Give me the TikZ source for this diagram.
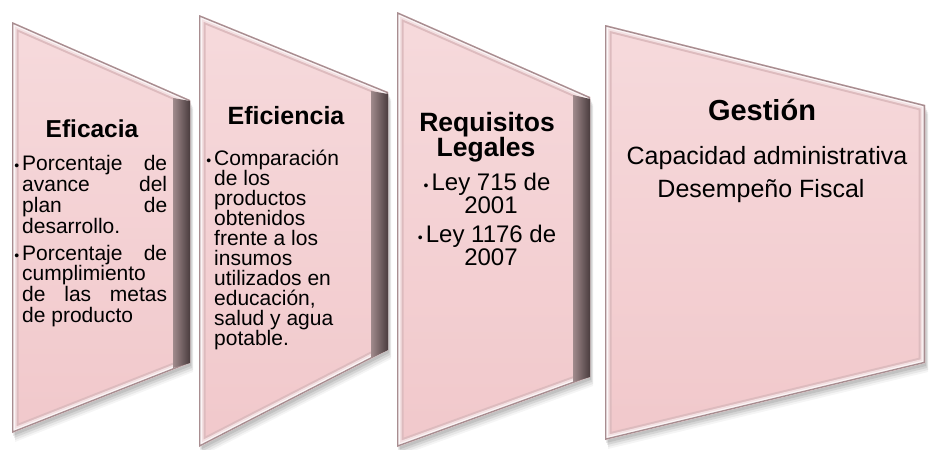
\documentclass[tikz,border=0pt]{standalone}
\usepackage{fontspec}
\setmainfont{Liberation Sans}
\definecolor{pinkTop}{HTML}{F6DADC}
\definecolor{pinkBot}{HTML}{F1C8CB}
\definecolor{bevMid}{HTML}{DDBBBE}
\definecolor{bevLight}{HTML}{F3E0E2}
\definecolor{bevDark}{HTML}{A88D90}
\definecolor{bandL}{HTML}{A08A8C}
\definecolor{bandM}{HTML}{6B5A5C}
\definecolor{bandR}{HTML}{4A3C3E}
\newcommand\chev[8]{%
  \foreach \dx/\dy/\op in {1/3/0.09, 2/5/0.08, 3/7/0.06, 3/9/0.04}{%
    \fill[black,opacity=\op] (#1+\dx,#2+\dy) -- (#3+\dx,#4+\dy) -- (#5+\dx,#6+\dy) -- (#7+\dx,#8+\dy) -- cycle;}
  \shade[top color=pinkTop,bottom color=pinkBot] (#1,#2) -- (#3,#4) -- (#5,#6) -- (#7,#8) -- cycle;
  \begin{scope}
    \clip (#1,#2) -- (#3,#4) -- (#5,#6) -- (#7,#8) -- cycle;
    \draw[line width=13pt,bevMid,line join=miter] (#1,#2) -- (#3,#4) -- (#5,#6) -- (#7,#8) -- cycle;
    \draw[line width=9pt,bevLight,line join=miter] (#1,#2) -- (#3,#4) -- (#5,#6) -- (#7,#8) -- cycle;
    \draw[line width=5.5pt,white,opacity=.7,line join=miter] (#1,#2) -- (#3,#4) -- (#5,#6) -- (#7,#8) -- cycle;
    \draw[line width=2.8pt,bevDark,line join=miter] (#1,#2) -- (#3,#4) -- (#5,#6) -- (#7,#8) -- cycle;
  \end{scope}}
\newcommand\band[8]{%
  \shade[left color=bandL,middle color=bandM,right color=bandR] (#1,#2) -- (#3,#4) -- (#5,#6) -- (#7,#8) -- cycle;}
\newcommand\bul{\llap{{\fontsize{14}{14}\selectfont •}\hspace{3pt}}}
\begin{document}
\begin{tikzpicture}[x=1pt,y=-1pt,
  title/.style={font=\bfseries\fontsize{24.5}{24.5}\selectfont, inner sep=0, anchor=base},
  body/.style={inner sep=0}]
\useasboundingbox (0,0) rectangle (930,450);
% shapes
\chev{12}{22}{190}{100}{190}{363}{12}{433}
\band{173}{98}{190}{101}{190}{363}{173}{368}
\chev{199}{15}{388}{92}{388}{350}{199}{447}
\band{371}{91}{388}{94}{388}{350}{371}{358}
\chev{397}{12}{590}{97}{590}{377}{397}{447}
\band{573}{95}{590}{99}{590}{377}{573}{382}
\chev{605}{25}{925}{105}{925}{363}{605}{440}
% texts
\node[title] (t1) at (92,137) {Eficacia};
\node[body, anchor=north west, align=left, font=\fontsize{21}{20.8}\selectfont] (l1) at (22,155.5) {%
\bul\makebox[145pt][s]{Porcentaje de}\\
\makebox[145pt][s]{avance del}\\
\makebox[145pt][s]{plan de}\\
desarrollo.\\[6pt]
\bul\makebox[145pt][s]{Porcentaje de}\\
cumplimiento\\
\makebox[145pt][s]{de las metas}\\
de producto};
\node[title, font=\bfseries\fontsize{25}{25}\selectfont] (t2) at (286,124) {Eficiencia};
\node[body, anchor=north west, align=left, font=\fontsize{21}{20}\selectfont] (l2) at (214,150) {%
\bul Comparación\\
de los\\
productos\\
obtenidos\\
frente a los\\
insumos\\
utilizados en\\
educación,\\
salud y agua\\
potable.};
\node[title, font=\bfseries\fontsize{26.5}{26.5}\selectfont] (t3a) at (487,131) {Requisitos};
\node[title, font=\bfseries\fontsize{26.5}{26.5}\selectfont] (t3b) at (486,156) {Legales};
\node[body, anchor=north, align=center, font=\fontsize{24}{21}\selectfont] (l3) at (491,173) {%
\bul Ley 715 de\\
2001\\[8pt]
\bul Ley 1176 de\\
2007};
\node[title, font=\bfseries\fontsize{29}{29}\selectfont] (t4) at (762,120) {Gestión};
\node[body, anchor=base, font=\fontsize{25}{25}\selectfont] (c4) at (767,164) {Capacidad administrativa};
\node[body, anchor=base, font=\fontsize{25}{25}\selectfont] (d4) at (761,197) {Desempeño Fiscal};
\end{tikzpicture}
\end{document}
